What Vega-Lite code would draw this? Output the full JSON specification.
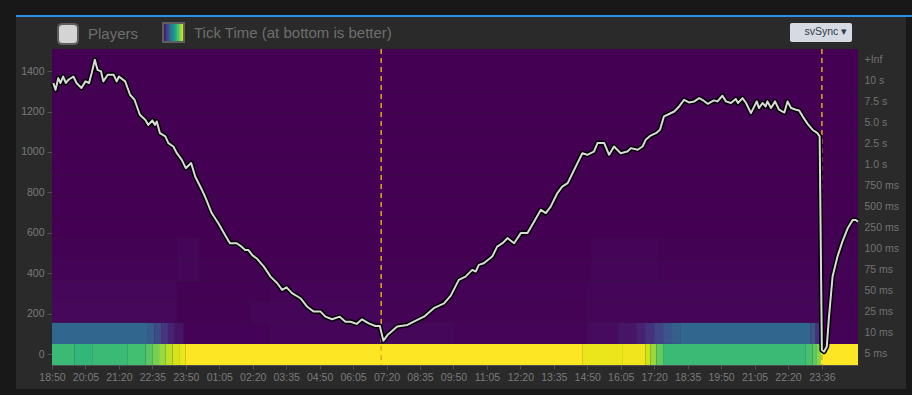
{
  "$schema": "https://vega.github.io/schema/vega-lite/v6.json",
  "width": 806,
  "height": 316,
  "autosize": {"type": "none"},
  "padding": {"left": 52, "top": 49, "right": 54, "bottom": 30},
  "background": "#2a2a2a",
  "config": {
    "view": {"stroke": null},
    "axis": {"grid": false, "labelFont": "Liberation Sans", "labelFontSize": 10.5, "labelColor": "#7a7a7a", "domainColor": "#505050", "tickColor": "#505050", "tickSize": 5, "labelPadding": 3},
    "axisX": {"labelOverlap": false, "labelFlush": false},
    "legend": {"labelFont": "Liberation Sans", "titleFont": "Liberation Sans"}
  },
  "datasets": {
    "heat": [
      {"b": "5 ms", "t": "2024-01-01T18:50", "t1": "2024-01-01T19:40", "v": 0.68},
      {"b": "5 ms", "t": "2024-01-01T19:40", "t1": "2024-01-01T20:20", "v": 0.66},
      {"b": "5 ms", "t": "2024-01-01T20:20", "t1": "2024-01-01T21:40", "v": 0.68},
      {"b": "5 ms", "t": "2024-01-01T21:40", "t1": "2024-01-01T22:20", "v": 0.70},
      {"b": "5 ms", "t": "2024-01-01T22:20", "t1": "2024-01-01T22:35", "v": 0.74},
      {"b": "5 ms", "t": "2024-01-01T22:35", "t1": "2024-01-01T22:50", "v": 0.79},
      {"b": "5 ms", "t": "2024-01-01T22:50", "t1": "2024-01-01T23:05", "v": 0.85},
      {"b": "5 ms", "t": "2024-01-01T23:05", "t1": "2024-01-01T23:20", "v": 0.90},
      {"b": "5 ms", "t": "2024-01-01T23:20", "t1": "2024-01-01T23:35", "v": 0.94},
      {"b": "5 ms", "t": "2024-01-01T23:35", "t1": "2024-01-01T23:50", "v": 0.97},
      {"b": "5 ms", "t": "2024-01-01T23:50", "t1": "2024-01-02T14:40", "v": 1.0},
      {"b": "5 ms", "t": "2024-01-02T14:40", "t1": "2024-01-02T16:10", "v": 0.97},
      {"b": "5 ms", "t": "2024-01-02T16:10", "t1": "2024-01-02T17:00", "v": 0.98},
      {"b": "5 ms", "t": "2024-01-02T17:00", "t1": "2024-01-02T17:12", "v": 0.93},
      {"b": "5 ms", "t": "2024-01-02T17:12", "t1": "2024-01-02T17:25", "v": 0.85},
      {"b": "5 ms", "t": "2024-01-02T17:25", "t1": "2024-01-02T17:40", "v": 0.76},
      {"b": "5 ms", "t": "2024-01-02T17:40", "t1": "2024-01-02T23:00", "v": 0.68},
      {"b": "5 ms", "t": "2024-01-02T23:00", "t1": "2024-01-02T23:15", "v": 0.71},
      {"b": "5 ms", "t": "2024-01-02T23:15", "t1": "2024-01-02T23:25", "v": 0.75},
      {"b": "5 ms", "t": "2024-01-02T23:25", "t1": "2024-01-02T23:34", "v": 0.82},
      {"b": "5 ms", "t": "2024-01-02T23:34", "t1": "2024-01-03T00:57", "v": 1.0},
      {"b": "10 ms", "t": "2024-01-01T18:50", "t1": "2024-01-01T22:25", "v": 0.33},
      {"b": "10 ms", "t": "2024-01-01T22:25", "t1": "2024-01-01T22:40", "v": 0.29},
      {"b": "10 ms", "t": "2024-01-01T22:40", "t1": "2024-01-01T22:55", "v": 0.22},
      {"b": "10 ms", "t": "2024-01-01T22:55", "t1": "2024-01-01T23:10", "v": 0.15},
      {"b": "10 ms", "t": "2024-01-01T23:10", "t1": "2024-01-01T23:25", "v": 0.09},
      {"b": "10 ms", "t": "2024-01-01T23:25", "t1": "2024-01-01T23:45", "v": 0.05},
      {"b": "10 ms", "t": "2024-01-01T23:45", "t1": "2024-01-02T03:00", "v": 0.005},
      {"b": "10 ms", "t": "2024-01-02T03:00", "t1": "2024-01-02T07:08", "v": 0.01},
      {"b": "10 ms", "t": "2024-01-02T07:08", "t1": "2024-01-02T09:50", "v": 0.016},
      {"b": "10 ms", "t": "2024-01-02T09:50", "t1": "2024-01-02T14:50", "v": 0.008},
      {"b": "10 ms", "t": "2024-01-02T14:50", "t1": "2024-01-02T16:00", "v": 0.025},
      {"b": "10 ms", "t": "2024-01-02T16:00", "t1": "2024-01-02T16:40", "v": 0.05},
      {"b": "10 ms", "t": "2024-01-02T16:40", "t1": "2024-01-02T17:00", "v": 0.09},
      {"b": "10 ms", "t": "2024-01-02T17:00", "t1": "2024-01-02T17:20", "v": 0.14},
      {"b": "10 ms", "t": "2024-01-02T17:20", "t1": "2024-01-02T17:40", "v": 0.2},
      {"b": "10 ms", "t": "2024-01-02T17:40", "t1": "2024-01-02T18:00", "v": 0.26},
      {"b": "10 ms", "t": "2024-01-02T18:00", "t1": "2024-01-02T18:20", "v": 0.3},
      {"b": "10 ms", "t": "2024-01-02T18:20", "t1": "2024-01-02T23:10", "v": 0.33},
      {"b": "10 ms", "t": "2024-01-02T23:10", "t1": "2024-01-02T23:22", "v": 0.26},
      {"b": "10 ms", "t": "2024-01-02T23:22", "t1": "2024-01-02T23:34", "v": 0.14},
      {"b": "10 ms", "t": "2024-01-02T23:34", "t1": "2024-01-03T00:57", "v": 0.005},
      {"b": "25 ms", "t": "2024-01-01T18:50", "t1": "2024-01-01T23:30", "v": 0.018},
      {"b": "25 ms", "t": "2024-01-01T23:30", "t1": "2024-01-02T02:15", "v": 0.003},
      {"b": "25 ms", "t": "2024-01-02T02:15", "t1": "2024-01-02T07:08", "v": 0.01},
      {"b": "25 ms", "t": "2024-01-02T07:08", "t1": "2024-01-02T14:50", "v": 0.006},
      {"b": "25 ms", "t": "2024-01-02T14:50", "t1": "2024-01-02T23:34", "v": 0.012},
      {"b": "25 ms", "t": "2024-01-02T23:34", "t1": "2024-01-03T00:57", "v": 0.003},
      {"b": "50 ms", "t": "2024-01-01T18:50", "t1": "2024-01-01T23:30", "v": 0.015},
      {"b": "50 ms", "t": "2024-01-01T23:30", "t1": "2024-01-02T03:00", "v": 0.003},
      {"b": "50 ms", "t": "2024-01-02T03:00", "t1": "2024-01-02T07:08", "v": 0.007},
      {"b": "50 ms", "t": "2024-01-02T07:08", "t1": "2024-01-02T14:50", "v": 0.004},
      {"b": "50 ms", "t": "2024-01-02T14:50", "t1": "2024-01-02T23:34", "v": 0.012},
      {"b": "50 ms", "t": "2024-01-02T23:34", "t1": "2024-01-03T00:57", "v": 0.003},
      {"b": "75 ms", "t": "2024-01-01T18:50", "t1": "2024-01-01T23:30", "v": 0.005},
      {"b": "75 ms", "t": "2024-01-01T23:30", "t1": "2024-01-02T00:20", "v": 0.012},
      {"b": "75 ms", "t": "2024-01-02T00:20", "t1": "2024-01-02T15:00", "v": 0.003},
      {"b": "75 ms", "t": "2024-01-02T15:00", "t1": "2024-01-02T17:30", "v": 0.01},
      {"b": "75 ms", "t": "2024-01-02T17:30", "t1": "2024-01-03T00:57", "v": 0.005},
      {"b": "100 ms", "t": "2024-01-01T18:50", "t1": "2024-01-01T23:30", "v": 0.003},
      {"b": "100 ms", "t": "2024-01-01T23:30", "t1": "2024-01-02T00:20", "v": 0.01},
      {"b": "100 ms", "t": "2024-01-02T00:20", "t1": "2024-01-02T15:00", "v": 0.0},
      {"b": "100 ms", "t": "2024-01-02T15:00", "t1": "2024-01-02T17:30", "v": 0.007},
      {"b": "100 ms", "t": "2024-01-02T17:30", "t1": "2024-01-03T00:57", "v": 0.003},
      {"b": "250 ms", "t": "2024-01-01T18:50", "t1": "2024-01-03T00:57", "v": 0},
      {"b": "500 ms", "t": "2024-01-01T18:50", "t1": "2024-01-03T00:57", "v": 0},
      {"b": "750 ms", "t": "2024-01-01T18:50", "t1": "2024-01-03T00:57", "v": 0},
      {"b": "1.0 s", "t": "2024-01-01T18:50", "t1": "2024-01-03T00:57", "v": 0},
      {"b": "2.5 s", "t": "2024-01-01T18:50", "t1": "2024-01-03T00:57", "v": 0},
      {"b": "5.0 s", "t": "2024-01-01T18:50", "t1": "2024-01-03T00:57", "v": 0},
      {"b": "7.5 s", "t": "2024-01-01T18:50", "t1": "2024-01-03T00:57", "v": 0},
      {"b": "10 s", "t": "2024-01-01T18:50", "t1": "2024-01-03T00:57", "v": 0},
      {"b": "+Inf", "t": "2024-01-01T18:50", "t1": "2024-01-03T00:57", "v": 0}
    ],
    "events": [
      {"t": "2024-01-02T07:08"},
      {"t": "2024-01-02T23:36"}
    ],
    "players": [
      {"t": "2024-01-01T18:53", "p": 1341}, {"t": "2024-01-01T18:58", "p": 1307}, {"t": "2024-01-01T19:04", "p": 1365},
      {"t": "2024-01-01T19:09", "p": 1341}, {"t": "2024-01-01T19:15", "p": 1373}, {"t": "2024-01-01T19:21", "p": 1341},
      {"t": "2024-01-01T19:27", "p": 1357}, {"t": "2024-01-01T19:38", "p": 1373}, {"t": "2024-01-01T19:45", "p": 1341},
      {"t": "2024-01-01T19:56", "p": 1316}, {"t": "2024-01-01T20:05", "p": 1349}, {"t": "2024-01-01T20:13", "p": 1341},
      {"t": "2024-01-01T20:19", "p": 1390}, {"t": "2024-01-01T20:26", "p": 1456}, {"t": "2024-01-01T20:32", "p": 1406},
      {"t": "2024-01-01T20:40", "p": 1398}, {"t": "2024-01-01T20:45", "p": 1349}, {"t": "2024-01-01T20:55", "p": 1382},
      {"t": "2024-01-01T21:08", "p": 1382}, {"t": "2024-01-01T21:15", "p": 1349}, {"t": "2024-01-01T21:20", "p": 1373},
      {"t": "2024-01-01T21:34", "p": 1349}, {"t": "2024-01-01T21:45", "p": 1283}, {"t": "2024-01-01T21:55", "p": 1258},
      {"t": "2024-01-01T22:07", "p": 1184}, {"t": "2024-01-01T22:19", "p": 1159}, {"t": "2024-01-01T22:26", "p": 1134},
      {"t": "2024-01-01T22:35", "p": 1156}, {"t": "2024-01-01T22:41", "p": 1134}, {"t": "2024-01-01T22:45", "p": 1151},
      {"t": "2024-01-01T22:52", "p": 1093}, {"t": "2024-01-01T23:04", "p": 1077}, {"t": "2024-01-01T23:11", "p": 1044},
      {"t": "2024-01-01T23:22", "p": 1027}, {"t": "2024-01-01T23:30", "p": 994}, {"t": "2024-01-01T23:41", "p": 961},
      {"t": "2024-01-01T23:50", "p": 920}, {"t": "2024-01-02T00:02", "p": 945}, {"t": "2024-01-02T00:11", "p": 879},
      {"t": "2024-01-02T00:26", "p": 813}, {"t": "2024-01-02T00:33", "p": 780}, {"t": "2024-01-02T00:48", "p": 698},
      {"t": "2024-01-02T01:03", "p": 648}, {"t": "2024-01-02T01:18", "p": 590}, {"t": "2024-01-02T01:29", "p": 549},
      {"t": "2024-01-02T01:44", "p": 549}, {"t": "2024-01-02T01:55", "p": 532}, {"t": "2024-01-02T02:03", "p": 516},
      {"t": "2024-01-02T02:10", "p": 516}, {"t": "2024-01-02T02:19", "p": 490}, {"t": "2024-01-02T02:30", "p": 472},
      {"t": "2024-01-02T02:45", "p": 433}, {"t": "2024-01-02T03:00", "p": 384}, {"t": "2024-01-02T03:15", "p": 351},
      {"t": "2024-01-02T03:26", "p": 318}, {"t": "2024-01-02T03:36", "p": 331}, {"t": "2024-01-02T03:48", "p": 302},
      {"t": "2024-01-02T04:07", "p": 277}, {"t": "2024-01-02T04:22", "p": 235}, {"t": "2024-01-02T04:37", "p": 211},
      {"t": "2024-01-02T04:52", "p": 211}, {"t": "2024-01-02T05:03", "p": 186}, {"t": "2024-01-02T05:18", "p": 173},
      {"t": "2024-01-02T05:35", "p": 186}, {"t": "2024-01-02T05:48", "p": 161}, {"t": "2024-01-02T05:59", "p": 161},
      {"t": "2024-01-02T06:13", "p": 150}, {"t": "2024-01-02T06:25", "p": 173}, {"t": "2024-01-02T06:40", "p": 153},
      {"t": "2024-01-02T06:55", "p": 140}, {"t": "2024-01-02T07:05", "p": 140}, {"t": "2024-01-02T07:08", "p": 112},
      {"t": "2024-01-02T07:13", "p": 67}, {"t": "2024-01-02T07:22", "p": 95}, {"t": "2024-01-02T07:44", "p": 137},
      {"t": "2024-01-02T08:07", "p": 145}, {"t": "2024-01-02T08:21", "p": 161}, {"t": "2024-01-02T08:44", "p": 186},
      {"t": "2024-01-02T09:06", "p": 228}, {"t": "2024-01-02T09:29", "p": 252}, {"t": "2024-01-02T09:44", "p": 290},
      {"t": "2024-01-02T10:02", "p": 368}, {"t": "2024-01-02T10:17", "p": 384}, {"t": "2024-01-02T10:32", "p": 417},
      {"t": "2024-01-02T10:40", "p": 409}, {"t": "2024-01-02T10:47", "p": 442}, {"t": "2024-01-02T10:58", "p": 450},
      {"t": "2024-01-02T11:17", "p": 483}, {"t": "2024-01-02T11:28", "p": 532}, {"t": "2024-01-02T11:40", "p": 549},
      {"t": "2024-01-02T11:51", "p": 574}, {"t": "2024-01-02T12:06", "p": 549}, {"t": "2024-01-02T12:21", "p": 599},
      {"t": "2024-01-02T12:36", "p": 599}, {"t": "2024-01-02T12:51", "p": 656}, {"t": "2024-01-02T13:06", "p": 714},
      {"t": "2024-01-02T13:17", "p": 698}, {"t": "2024-01-02T13:28", "p": 730}, {"t": "2024-01-02T13:43", "p": 797},
      {"t": "2024-01-02T13:54", "p": 829}, {"t": "2024-01-02T14:06", "p": 846}, {"t": "2024-01-02T14:17", "p": 895},
      {"t": "2024-01-02T14:28", "p": 945}, {"t": "2024-01-02T14:39", "p": 994}, {"t": "2024-01-02T14:50", "p": 986},
      {"t": "2024-01-02T15:05", "p": 1002}, {"t": "2024-01-02T15:13", "p": 1044}, {"t": "2024-01-02T15:28", "p": 1044},
      {"t": "2024-01-02T15:39", "p": 986}, {"t": "2024-01-02T15:50", "p": 1027}, {"t": "2024-01-02T16:05", "p": 994},
      {"t": "2024-01-02T16:20", "p": 1002}, {"t": "2024-01-02T16:28", "p": 1019}, {"t": "2024-01-02T16:43", "p": 1011},
      {"t": "2024-01-02T16:54", "p": 1027}, {"t": "2024-01-02T17:01", "p": 1060}, {"t": "2024-01-02T17:12", "p": 1081},
      {"t": "2024-01-02T17:24", "p": 1093}, {"t": "2024-01-02T17:33", "p": 1110}, {"t": "2024-01-02T17:42", "p": 1176},
      {"t": "2024-01-02T17:50", "p": 1184}, {"t": "2024-01-02T18:05", "p": 1200}, {"t": "2024-01-02T18:16", "p": 1225},
      {"t": "2024-01-02T18:27", "p": 1258}, {"t": "2024-01-02T18:38", "p": 1245}, {"t": "2024-01-02T18:50", "p": 1250},
      {"t": "2024-01-02T19:01", "p": 1266}, {"t": "2024-01-02T19:08", "p": 1258}, {"t": "2024-01-02T19:20", "p": 1238},
      {"t": "2024-01-02T19:34", "p": 1255}, {"t": "2024-01-02T19:42", "p": 1250}, {"t": "2024-01-02T19:53", "p": 1278},
      {"t": "2024-01-02T20:01", "p": 1250}, {"t": "2024-01-02T20:12", "p": 1242}, {"t": "2024-01-02T20:23", "p": 1262},
      {"t": "2024-01-02T20:28", "p": 1242}, {"t": "2024-01-02T20:38", "p": 1266}, {"t": "2024-01-02T20:46", "p": 1242},
      {"t": "2024-01-02T20:57", "p": 1192}, {"t": "2024-01-02T21:10", "p": 1250}, {"t": "2024-01-02T21:15", "p": 1217},
      {"t": "2024-01-02T21:23", "p": 1242}, {"t": "2024-01-02T21:30", "p": 1225}, {"t": "2024-01-02T21:34", "p": 1250},
      {"t": "2024-01-02T21:42", "p": 1217}, {"t": "2024-01-02T21:51", "p": 1250}, {"t": "2024-01-02T22:00", "p": 1209},
      {"t": "2024-01-02T22:12", "p": 1195}, {"t": "2024-01-02T22:19", "p": 1250}, {"t": "2024-01-02T22:27", "p": 1217},
      {"t": "2024-01-02T22:38", "p": 1209}, {"t": "2024-01-02T22:45", "p": 1205}, {"t": "2024-01-02T22:53", "p": 1176},
      {"t": "2024-01-02T23:04", "p": 1139}, {"t": "2024-01-02T23:15", "p": 1110}, {"t": "2024-01-02T23:26", "p": 1093},
      {"t": "2024-01-02T23:31", "p": 1077}, {"t": "2024-01-02T23:36", "p": 21}, {"t": "2024-01-02T23:41", "p": 13},
      {"t": "2024-01-02T23:47", "p": 38}, {"t": "2024-01-02T23:52", "p": 186}, {"t": "2024-01-03T00:00", "p": 384},
      {"t": "2024-01-03T00:11", "p": 483}, {"t": "2024-01-03T00:22", "p": 557}, {"t": "2024-01-03T00:34", "p": 623},
      {"t": "2024-01-03T00:45", "p": 664}, {"t": "2024-01-03T00:52", "p": 664}, {"t": "2024-01-03T00:57", "p": 656}
    ]
  },
  "encoding": {
    "x": {
      "field": "t", "type": "temporal", "title": null,
      "scale": {"domain": [{"year": 2024, "month": 1, "date": 1, "hours": 18, "minutes": 50}, {"year": 2024, "month": 1, "date": 3, "hours": 0, "minutes": 57}]},
      "axis": {
        "format": "%H:%M", "labelFlush": false, "labelOverlap": false, "tickSize": 4,
        "values": [
          {"year": 2024, "month": 1, "date": 1, "hours": 18, "minutes": 50},
          {"year": 2024, "month": 1, "date": 1, "hours": 20, "minutes": 5},
          {"year": 2024, "month": 1, "date": 1, "hours": 21, "minutes": 20},
          {"year": 2024, "month": 1, "date": 1, "hours": 22, "minutes": 35},
          {"year": 2024, "month": 1, "date": 1, "hours": 23, "minutes": 50},
          {"year": 2024, "month": 1, "date": 2, "hours": 1, "minutes": 5},
          {"year": 2024, "month": 1, "date": 2, "hours": 2, "minutes": 20},
          {"year": 2024, "month": 1, "date": 2, "hours": 3, "minutes": 35},
          {"year": 2024, "month": 1, "date": 2, "hours": 4, "minutes": 50},
          {"year": 2024, "month": 1, "date": 2, "hours": 6, "minutes": 5},
          {"year": 2024, "month": 1, "date": 2, "hours": 7, "minutes": 20},
          {"year": 2024, "month": 1, "date": 2, "hours": 8, "minutes": 35},
          {"year": 2024, "month": 1, "date": 2, "hours": 9, "minutes": 50},
          {"year": 2024, "month": 1, "date": 2, "hours": 11, "minutes": 5},
          {"year": 2024, "month": 1, "date": 2, "hours": 12, "minutes": 20},
          {"year": 2024, "month": 1, "date": 2, "hours": 13, "minutes": 35},
          {"year": 2024, "month": 1, "date": 2, "hours": 14, "minutes": 50},
          {"year": 2024, "month": 1, "date": 2, "hours": 16, "minutes": 5},
          {"year": 2024, "month": 1, "date": 2, "hours": 17, "minutes": 20},
          {"year": 2024, "month": 1, "date": 2, "hours": 18, "minutes": 35},
          {"year": 2024, "month": 1, "date": 2, "hours": 19, "minutes": 50},
          {"year": 2024, "month": 1, "date": 2, "hours": 21, "minutes": 5},
          {"year": 2024, "month": 1, "date": 2, "hours": 22, "minutes": 20},
          {"year": 2024, "month": 1, "date": 2, "hours": 23, "minutes": 36}
        ]
      }
    }
  },
  "layer": [
    {
      "data": {"name": "heat"},
      "mark": {"type": "rect", "strokeWidth": 0},
      "encoding": {
        "x2": {"field": "t1"},
        "y": {
          "field": "b", "type": "ordinal", "title": null,
          "scale": {"domain": ["+Inf", "10 s", "7.5 s", "5.0 s", "2.5 s", "1.0 s", "750 ms", "500 ms", "250 ms", "100 ms", "75 ms", "50 ms", "25 ms", "10 ms", "5 ms"], "paddingInner": 0, "paddingOuter": 0},
          "axis": {"orient": "right", "ticks": false, "domain": false, "labelPadding": 6, "labelFontSize": 10.5, "labelColor": "#727272"}
        },
        "fill": {
          "field": "v", "type": "quantitative", "scale": {"scheme": "viridis", "domain": [0, 1]},
          "legend": {
            "title": "Tick Time (at bottom is better)", "orient": "none", "legendX": 111, "legendY": -26,
            "direction": "horizontal", "gradientLength": 21, "gradientThickness": 19,
            "gradientStrokeColor": "#5e5e5e", "gradientStrokeWidth": 2,
            "labelExpr": "''", "labelFontSize": 1, "labelOpacity": 0, "tickCount": 2,
            "titleOrient": "right", "titleFontSize": 15, "titleFontWeight": "normal", "titleColor": "#6e6e6e",
            "titlePadding": 9, "titleAnchor": "middle", "titleBaseline": "middle", "titleLimit": 400, "padding": 0
          }
        }
      }
    },
    {
      "layer": [
        {
          "data": {"name": "events"},
          "mark": {"type": "rule", "color": "#e2a923", "strokeWidth": 1.5},
          "encoding": {
            "strokeDash": {
              "datum": "svSync ▾",
              "scale": {"range": [[5, 4]]},
              "legend": {
                "title": null, "orient": "none", "legendX": 738, "legendY": -26,
                "fillColor": "#d6dae2", "padding": 4, "cornerRadius": 2,
                "symbolSize": 1, "symbolOpacity": 0, "labelOffset": 0,
                "labelColor": "#2f3a4a", "labelFontSize": 10.5
              }
            }
          }
        },
        {
          "data": {"name": "players"},
          "mark": {"type": "line", "color": "#000000", "strokeWidth": 5, "strokeJoin": "round"},
          "encoding": {
            "y": {
              "field": "p", "type": "quantitative", "title": null,
              "scale": {"domain": [-53, 1509], "nice": false, "zero": false},
              "axis": {"orient": "left", "format": "d", "values": [0, 200, 400, 600, 800, 1000, 1200, 1400]}
            }
          }
        },
        {
          "data": {"name": "players"},
          "mark": {"type": "line", "color": "#dadada", "strokeWidth": 2, "strokeJoin": "round"},
          "encoding": {
            "y": {
              "field": "p", "type": "quantitative", "title": null,
              "scale": {"domain": [-53, 1509], "nice": false, "zero": false},
              "axis": {"orient": "left", "format": "d", "values": [0, 200, 400, 600, 800, 1000, 1200, 1400]}
            }
          }
        }
      ]
    },
    {
      "data": {"values": []},
      "mark": {"type": "rule", "strokeWidth": 2},
      "encoding": {
        "stroke": {
          "datum": "Players",
          "scale": {"domain": ["Players"], "range": ["#5e5e5e"]},
          "legend": {
            "title": null, "orient": "none", "legendX": 5, "legendY": -26,
            "symbolType": "M-1,-0.55 Q-1,-1 -0.55,-1 L0.55,-1 Q1,-1 1,-0.55 L1,0.55 Q1,1 0.55,1 L-0.55,1 Q-1,1 -1,0.55 Z",
            "symbolSize": 400, "symbolStrokeWidth": 2, "symbolFillColor": "#d4d4d4",
            "labelFontSize": 15, "labelColor": "#6e6e6e", "labelOffset": 9, "labelLimit": 400, "padding": 0
          }
        }
      }
    },
    {
      "data": {"values": []},
      "mark": {"type": "rule"},
      "encoding": {
        "stroke": {
          "datum": 0, "type": "quantitative",
          "scale": {"domain": [0, 1], "range": ["#181818", "#181818"]},
          "legend": {"title": null, "orient": "none", "legendX": -52, "legendY": -49, "direction": "horizontal", "gradientLength": 912, "gradientThickness": 15, "gradientStrokeWidth": 0, "labelExpr": "''", "labelOpacity": 0, "labelFontSize": 1, "tickCount": 2, "padding": 0}
        }
      }
    },
    {
      "data": {"values": []},
      "mark": {"type": "rule"},
      "encoding": {
        "stroke": {
          "datum": 0, "type": "quantitative",
          "scale": {"domain": [0, 1], "range": ["#2e8fe9", "#2e8fe9"]},
          "legend": {"title": null, "orient": "none", "legendX": -36, "legendY": -34, "direction": "horizontal", "gradientLength": 896, "gradientThickness": 2, "gradientStrokeWidth": 0, "labelExpr": "''", "labelOpacity": 0, "labelFontSize": 1, "tickCount": 2, "padding": 0}
        }
      }
    },
    {
      "data": {"values": []},
      "mark": {"type": "rule"},
      "encoding": {
        "stroke": {
          "datum": 0, "type": "quantitative",
          "scale": {"domain": [0, 1], "range": ["#181818", "#181818"]},
          "legend": {"title": null, "orient": "none", "legendX": -52, "legendY": -34, "direction": "vertical", "gradientLength": 380, "gradientThickness": 16, "gradientStrokeWidth": 0, "labelExpr": "''", "labelOpacity": 0, "labelFontSize": 1, "tickCount": 2, "padding": 0}
        }
      }
    },
    {
      "data": {"values": []},
      "mark": {"type": "rule"},
      "encoding": {
        "stroke": {
          "datum": 0, "type": "quantitative",
          "scale": {"domain": [0, 1], "range": ["#181818", "#181818"]},
          "legend": {"title": null, "orient": "none", "legendX": 854, "legendY": -32, "direction": "vertical", "gradientLength": 378, "gradientThickness": 6, "gradientStrokeWidth": 0, "labelExpr": "''", "labelOpacity": 0, "labelFontSize": 1, "tickCount": 2, "padding": 0}
        }
      }
    },
    {
      "data": {"values": []},
      "mark": {"type": "rule"},
      "encoding": {
        "stroke": {
          "datum": 0, "type": "quantitative",
          "scale": {"domain": [0, 1], "range": ["#181818", "#181818"]},
          "legend": {"title": null, "orient": "none", "legendX": -36, "legendY": 340, "direction": "horizontal", "gradientLength": 890, "gradientThickness": 6, "gradientStrokeWidth": 0, "labelExpr": "''", "labelOpacity": 0, "labelFontSize": 1, "tickCount": 2, "padding": 0}
        }
      }
    }
  ],
  "resolve": {
    "scale": {"y": "independent", "stroke": "independent"},
    "axis": {"y": "independent"},
    "legend": {"stroke": "independent"}
  }
}
